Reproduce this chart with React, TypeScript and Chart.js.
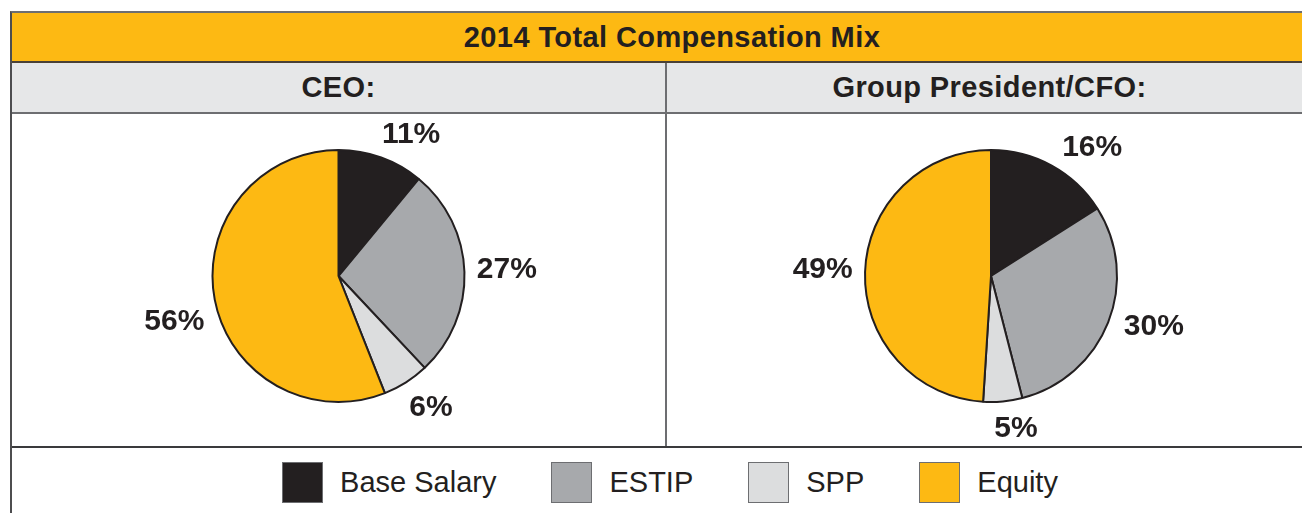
import React, { useEffect, useRef } from 'react';
import { Chart, registerables } from 'chart.js';

Chart.register(...registerables);

const chartTitle = '2014 Total Compensation Mix';
const categories = ['Base Salary', 'ESTIP', 'SPP', 'Equity'];
const panelTitles = ['CEO:', 'Group President/CFO:'];
const ceoValues = [11, 27, 6, 56];
const cfoValues = [16, 30, 5, 49];

// styling: small angular nudges (degrees) applied to the outside percentage labels
const ceoLabelNudge = [7, -1, -3, -4];
const cfoLabelNudge = [9, -5, -4, 1];

const sliceColors = ['#231F20', '#A7A9AC', '#DCDDDE', '#FDB913'];
const INK = '#231F20';
const FONT = '"Liberation Sans", Arial, Helvetica, sans-serif';

const outsideLabels = {
  id: 'outsideLabels',
  afterDatasetsDraw(chart: any) {
    const ctx = chart.ctx;
    const meta = chart.getDatasetMeta(0);
    const values = chart.data.datasets[0].data;
    const nudges: number[] = chart.options.plugins.outsideLabels?.nudge || [];
    ctx.save();
    ctx.font = `bold 30px ${FONT}`;
    ctx.fillStyle = INK;
    ctx.textAlign = 'center';
    ctx.textBaseline = 'middle';
    meta.data.forEach((arc: any, i: number) => {
      const p = arc.getProps(['x', 'y', 'startAngle', 'endAngle', 'outerRadius'], true);
      const mid = (p.startAngle + p.endAngle) / 2 + ((nudges[i] || 0) * Math.PI) / 180;
      const text = values[i] + '%';
      const w = ctx.measureText(text).width;
      const h = 22;
      const c = Math.cos(mid);
      const s = Math.sin(mid);
      const d = p.outerRadius + 12 + (Math.abs(c) * w) / 2 + (Math.abs(s) * h) / 2;
      ctx.fillText(text, p.x + c * d, p.y + s * d + 2);
    });
    ctx.restore();
  },
};

function Pie({ values, nudge, width, height, padding }: any) {
  const ref = useRef<HTMLCanvasElement | null>(null);
  useEffect(() => {
    const chart = new Chart(ref.current as HTMLCanvasElement, {
      type: 'pie',
      data: {
        labels: categories,
        datasets: [
          {
            data: values,
            backgroundColor: sliceColors,
            borderColor: INK,
            borderWidth: 2,
          },
        ],
      },
      options: {
        animation: false,
        responsive: false,
        layout: { padding },
        plugins: {
          legend: { display: false },
          tooltip: { enabled: false },
          outsideLabels: { nudge },
        } as any,
      },
      plugins: [outsideLabels as any],
    });
    return () => chart.destroy();
  }, []);
  return <canvas ref={ref} width={width} height={height} style={{ display: 'block' }} />;
}

export default function App() {
  const divider = '2px solid #6D6E71';
  const headStyle: any = {
    display: 'flex',
    alignItems: 'center',
    justifyContent: 'center',
    fontWeight: 'bold',
    fontSize: 29,
    letterSpacing: 0.4,
  };
  return (
    <div style={{ width: 1302, overflow: 'hidden', fontFamily: FONT, color: INK }}>
      <div
        style={{
          marginLeft: 2,
          marginTop: 3,
          width: 1310,
          borderLeft: '2px solid #4D4D4F',
          borderTop: '2px solid #6D6E71',
        }}
      >
        <div
          style={{
            ...headStyle,
            height: 48,
            background: '#FDB913',
            borderBottom: '2px solid #4A4136',
            paddingLeft: 10,
          }}
        >
          {chartTitle}
        </div>
        <div style={{ height: 49, background: '#E6E7E8', borderBottom: divider, display: 'flex' }}>
          <div style={{ ...headStyle, width: 653, borderRight: divider }}>{panelTitles[0]}</div>
          <div style={{ ...headStyle, width: 645 }}>{panelTitles[1]}</div>
        </div>
        <div style={{ height: 332, borderBottom: '2px solid #3A3A3C', display: 'flex' }}>
          <div style={{ width: 653, borderRight: divider }}>
            <Pie
              values={ceoValues}
              nudge={ceoLabelNudge}
              width={653}
              height={332}
              padding={{ top: 35, bottom: 43, left: 0, right: 0 }}
            />
          </div>
          <div style={{ width: 645 }}>
            <Pie
              values={cfoValues}
              nudge={cfoLabelNudge}
              width={645}
              height={332}
              padding={{ top: 35, bottom: 43, left: 3, right: 0 }}
            />
          </div>
        </div>
        <div
          style={{
            height: 65,
            display: 'flex',
            alignItems: 'center',
            justifyContent: 'center',
            paddingLeft: 6,
            paddingTop: 3,
            boxSizing: 'border-box',
          }}
        >
          {categories.map((c, i) => (
            <div key={c} style={{ display: 'flex', alignItems: 'center', marginLeft: i === 0 ? 0 : 55 }}>
              <div
                style={{
                  width: 41,
                  height: 41,
                  boxSizing: 'border-box',
                  background: sliceColors[i],
                  border: '1px solid #6D6E71',
                  marginRight: 17,
                }}
              />
              <span style={{ fontSize: 29 }}>{c}</span>
            </div>
          ))}
        </div>
      </div>
    </div>
  );
}
